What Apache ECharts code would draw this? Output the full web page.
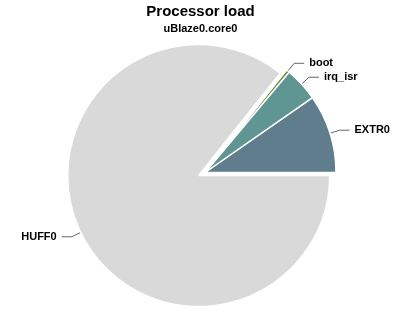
<!DOCTYPE html>
<html><head><meta charset="utf-8">
<script src="https://cdn.jsdelivr.net/npm/echarts@6/dist/echarts.min.js"></script>
<style>html,body{margin:0;padding:0;background:#fff}#c{width:401px;height:314px}</style>
</head><body><div id="c"></div>
<script>
const categories = ['EXTR0', 'irq_isr', 'boot', 'HUFF0'];
const values = [9.7, 4.2, 0.4, 85.7];
const colors = ['#5f7d8c', '#5f9592', '#6b8e3a', '#d9d9d9'];

const chart = echarts.init(document.getElementById('c'));
chart.setOption({
  animation: false,
  title: {
    text: 'Processor load',
    subtext: 'uBlaze0.core0',
    left: 'center',
    top: -1,
    itemGap: 4,
    textStyle: {fontFamily: 'Liberation Sans', fontWeight: 'bold', fontSize: 15, color: '#000'},
    subtextStyle: {fontFamily: 'Liberation Sans', fontWeight: 'bold', fontSize: 11, color: '#000'}
  },
  series: [{
    type: 'pie',
    center: [205, 172.5],
    radius: 131,
    startAngle: 0,
    clockwise: false,
    selectedMode: 'multiple',
    selectedOffset: 7,
    avoidLabelOverlap: true,
    itemStyle: {borderColor: '#fff', borderWidth: 1.5},
    label: {
      formatter: '{b}',
      fontFamily: 'Liberation Sans',
      fontWeight: 'bold',
      fontSize: 11,
      color: '#000'
    },
    labelLine: {length: 10, length2: 10, lineStyle: {color: '#666', width: 1}},
    data: categories.map((c, i) => ({
      name: c,
      value: values[i],
      selected: c === 'HUFF0',
      itemStyle: {color: colors[i]}
    }))
  }]
});
</script></body></html>
